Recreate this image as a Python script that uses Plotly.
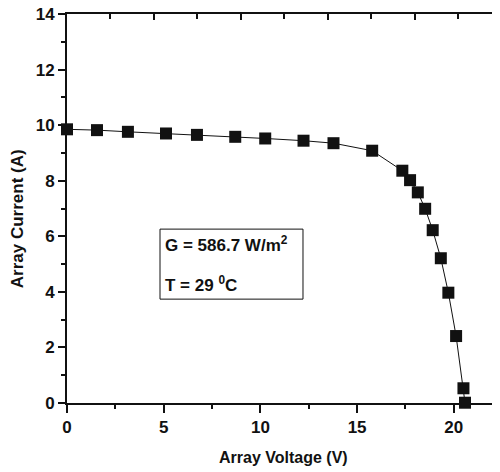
import plotly.graph_objects as go

# Data (I-V curve)
voltage = [0.0, 1.55, 3.15, 5.12, 6.72, 8.70, 10.25, 12.23, 13.78, 15.78,
           17.34, 17.74, 18.14, 18.52, 18.91, 19.33, 19.72, 20.12, 20.50, 20.58]
current = [9.85, 9.82, 9.76, 9.70, 9.65, 9.58, 9.52, 9.44, 9.35, 9.08,
           8.36, 8.02, 7.58, 6.99, 6.22, 5.21, 3.97, 2.41, 0.53, 0.01]

x_ticks = [0, 5, 10, 15, 20]
y_ticks = [0, 2, 4, 6, 8, 10, 12, 14]

FONT = "Liberation Sans"
BLACK = "#111111"

fig = go.Figure()
fig.add_trace(go.Scatter(
    x=voltage, y=current, mode="lines+markers",
    line=dict(color=BLACK, width=1),
    marker=dict(symbol="square", size=12, color=BLACK),
    cliponaxis=False, showlegend=False, hoverinfo="skip",
))
# helper trace so the top and right decorative axes render
fig.add_trace(go.Scatter(x=[], y=[], xaxis="x2", yaxis="y2", showlegend=False))

tickfont = dict(family=FONT, size=17, color=BLACK, weight="bold")

# page body has an 8px default margin, so the figure is sized/offset to compensate
fig.update_layout(
    width=492, height=464,
    margin=dict(l=59, r=0, t=6, b=69, autoexpand=False),
    paper_bgcolor="white", plot_bgcolor="white",
    font=dict(family=FONT, color=BLACK),
    xaxis=dict(
        range=[0, 22.39], tickvals=x_ticks, ticks="outside", ticklen=8, tickwidth=1.5,
        tickcolor=BLACK, minor=dict(dtick=2.5, tick0=0, ticks="outside", ticklen=4, tickwidth=1.5, tickcolor=BLACK),
        showline=True, linewidth=2, linecolor=BLACK, showgrid=False, zeroline=False,
        tickfont=tickfont, automargin=False, ticklabeloverflow="allow",
    ),
    yaxis=dict(
        range=[0, 14], tickvals=y_ticks, ticks="outside", ticklen=7, tickwidth=1.5,
        tickcolor=BLACK, minor=dict(dtick=1, tick0=0, ticks="outside", ticklen=4, tickwidth=1.5, tickcolor=BLACK),
        showline=True, linewidth=2, linecolor=BLACK, showgrid=False, zeroline=False,
        tickfont=tickfont, automargin=False, ticklabelstandoff=0, ticklabeloverflow="allow",
    ),
    xaxis2=dict(
        overlaying="x", side="top", anchor="y2", range=[0, 4.98], dtick=1, tick0=0,
        ticks="inside", ticklen=6, tickwidth=1.5, tickcolor=BLACK, showticklabels=False,
        minor=dict(dtick=0.5, tick0=0, ticks="inside", ticklen=5, tickwidth=1.5, tickcolor=BLACK),
        showline=True, linewidth=2, linecolor=BLACK, showgrid=False, zeroline=False,
        automargin=False,
    ),
    yaxis2=dict(
        overlaying="y", side="right", anchor="x2", range=[0, 5], dtick=1, tick0=0,
        ticks="inside", ticklen=5, tickwidth=1.5, tickcolor=BLACK, showticklabels=False,
        minor=dict(dtick=0.5, tick0=0, ticks="inside", ticklen=2, tickwidth=1.5, tickcolor=BLACK),
        showline=False, showgrid=False, zeroline=False, automargin=False,
    ),
    shapes=[dict(type="rect", xref="paper", yref="paper",
                 x0=0.2148, x1=0.545, y0=0.267, y1=0.447,
                 line=dict(color=BLACK, width=1), fillcolor="rgba(0,0,0,0)")],
    annotations=[
        dict(text="Array Current (A)", xref="paper", yref="paper", x=-0.115, y=0.473,
             textangle=-90, showarrow=False, xanchor="center", yanchor="middle",
             font=dict(family=FONT, size=17, color=BLACK, weight="bold")),
        dict(text="Array Voltage (V)", xref="paper", yref="paper", x=0.5, y=-0.139,
             showarrow=False, xanchor="center", yanchor="middle",
             font=dict(family=FONT, size=16, color=BLACK, weight="bold")),
        dict(text="G = 586.7 W/m<sup>2</sup>", xref="paper", yref="paper", x=0.222, y=0.41,
             showarrow=False, xanchor="left", yanchor="middle",
             font=dict(family=FONT, size=17, color=BLACK, weight="bold")),
        dict(text="T = 29 <sup>0</sup>C", xref="paper", yref="paper", x=0.222, y=0.305,
             showarrow=False, xanchor="left", yanchor="middle",
             font=dict(family=FONT, size=17, color=BLACK, weight="bold")),
    ],
)

fig.write_html("out.html")
